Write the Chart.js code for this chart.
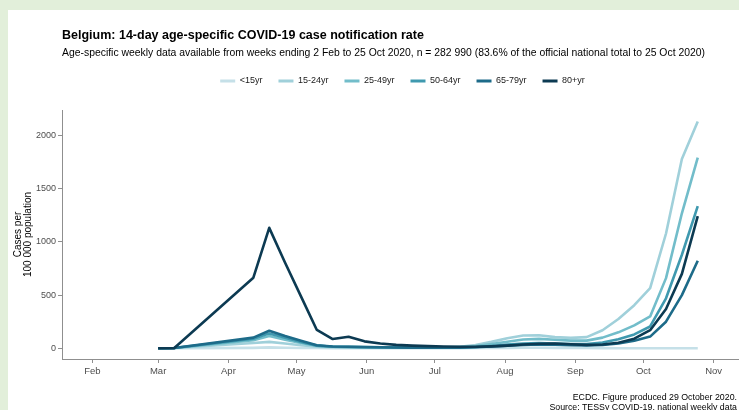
<!DOCTYPE html>
<html>
<head>
<meta charset="utf-8">
<script src="https://cdn.jsdelivr.net/npm/chart.js@4.4.1/dist/chart.umd.min.js"></script>
<style>
  html, body { margin: 0; padding: 0; width: 739px; height: 410px; overflow: hidden; background: #e2efda; font-family: 'Liberation Sans', Arial, sans-serif; }
  #panel { position: absolute; left: 8px; top: 10px; width: 740px; height: 410px; background: #ffffff; }
  #chart { position: absolute; left: 0; top: 0; }
  .txt { position: absolute; white-space: nowrap; color: #000; }
</style>
</head>
<body>
<div id="panel"></div>
<canvas id="chart" width="805" height="410"></canvas>
<div class="txt" style="left:62px; top:27px; font-size:12.5px; line-height:16px; font-weight:bold;">Belgium: 14-day age-specific COVID-19 case notification rate</div>
<div class="txt" style="left:62px; top:46px; font-size:10.4px; line-height:14px;">Age-specific weekly data available from weeks ending 2 Feb to 25 Oct 2020, n = 282 990 (83.6% of the official national total to 25 Oct 2020)</div>
<div class="txt" style="right:2px; top:392px; font-size:8.8px; line-height:10px; text-align:right;">ECDC. Figure produced 29 October 2020.<br>Source: TESSy COVID-19, national weekly data</div>
<script>
// Week-ending dates with reported age-specific data
const weekEnding = [
  '2020-03-01','2020-03-08','2020-04-12','2020-04-19','2020-04-26','2020-05-03','2020-05-10',
  '2020-05-17','2020-05-24','2020-05-31','2020-06-07','2020-06-14','2020-06-21','2020-06-28',
  '2020-07-05','2020-07-12','2020-07-19','2020-07-26','2020-08-02','2020-08-09','2020-08-16',
  '2020-08-23','2020-08-30','2020-09-06','2020-09-13','2020-09-20','2020-09-27','2020-10-04',
  '2020-10-11','2020-10-18','2020-10-25'
];

const ageGroups = ['<15yr', '15-24yr', '25-49yr', '50-64yr', '65-79yr', '80+yr'];

// 14-day notification rate per 100 000 population, by age group
const rateUnder15 = [0,0,4,8,5,3,2,1,1,1,1,1,1,1,1,1,2,3,4,5,5,4,3,2,1,0,0,0,0,0,0];
const rate15to24  = [0,2,50,60,45,28,15,10,9,8,7,7,7,8,10,15,30,60,95,120,122,105,98,105,170,275,405,565,1080,1780,2134];
const rate25to49  = [0,3,75,115,80,50,25,15,13,11,9,8,8,8,9,12,20,40,62,82,88,80,72,72,100,150,215,300,660,1270,1794];
const rate50to64  = [0,2,90,140,100,60,25,14,12,10,8,7,6,6,6,8,12,22,35,45,50,45,40,40,55,85,130,205,470,880,1337];
const rate65to79  = [0,2,100,165,115,70,28,16,14,12,9,7,6,5,5,6,9,16,25,32,36,33,28,26,32,45,70,110,250,500,823];
const rate80plus  = [0,0,664,1133,804,488,172,87,109,65,45,32,25,20,16,14,14,18,25,35,42,45,38,32,35,52,90,170,370,700,1243];

// Axis ticks
const monthStarts = ['2020-02-01','2020-03-01','2020-04-01','2020-05-01','2020-06-01','2020-07-01','2020-08-01','2020-09-01','2020-10-01','2020-11-01'];
const monthLabels = ['Feb','Mar','Apr','May','Jun','Jul','Aug','Sep','Oct','Nov'];
const rateTicks = [0, 500, 1000, 1500, 2000];

const palette = ['#c5e0e8', '#a0d0da', '#72bdca', '#3f99af', '#1d6b89', '#0c3a52'];

const origin = Date.UTC(2020, 1, 1);
function dayOf(iso) {
  const [y, m, d] = iso.split('-').map(Number);
  return (Date.UTC(y, m - 1, d) - origin) / 864e5;
}

const seriesByGroup = [rateUnder15, rate15to24, rate25to49, rate50to64, rate65to79, rate80plus];

// Older groups are drawn on top of younger ones
const datasets = ageGroups.map((group, i) => ({
  label: group,
  data: weekEnding.map((d, j) => ({ x: dayOf(d), y: seriesByGroup[i][j] })),
  borderColor: palette[i],
  backgroundColor: palette[i],
  borderWidth: 2.6,
  pointRadius: 0,
  pointHoverRadius: 0,
  tension: 0,
  borderJoinStyle: 'round',
  order: ageGroups.length - 1 - i
}));

// Empty layout box that leaves room between the legend and the plot
const legendGap = {
  id: 'legendGap',
  beforeInit(chart, args, opts) {
    Chart.layouts.addBox(chart, {
      position: 'top', weight: 0, fullSize: true, options: {},
      left: 0, top: 0, right: 0, bottom: 0, width: 0, height: 0,
      isHorizontal() { return true; },
      update(maxWidth) { this.width = maxWidth; this.height = opts.size; },
      draw() {}
    });
  }
};

Chart.defaults.font.family = "'Liberation Sans', Arial, sans-serif";
const axisGrey = '#8f8f8f';
const tickText = '#4d4d4d';

new Chart(document.getElementById('chart'), {
  type: 'line',
  data: { datasets },
  plugins: [legendGap],
  options: {
    responsive: false,
    animation: false,
    events: [],
    layout: { padding: { top: 60.5, bottom: 21, left: 0, right: 0 } },
    plugins: {
      legendGap: { size: 14.5 },
      tooltip: { enabled: false },
      title: { display: false },
      legend: {
        display: true,
        position: 'top',
        align: 'center',
        labels: {
          boxWidth: 15,
          boxHeight: 3,
          padding: 16,
          color: '#1a1a1a',
          font: { size: 9 },
          sort: (a, b) => a.datasetIndex - b.datasetIndex,
          generateLabels(chart) {
            return Chart.defaults.plugins.legend.labels.generateLabels(chart)
              .map(item => Object.assign(item, { lineWidth: 0 }));
          }
        }
      }
    },
    scales: {
      x: {
        type: 'linear',
        min: -13.4,
        max: 314.3,
        afterFit(scale) { scale.height = 30; },
        afterBuildTicks(scale) { scale.ticks = monthStarts.map(d => ({ value: dayOf(d) })); },
        grid: { display: true, drawOnChartArea: false, drawTicks: true, tickLength: 4, color: axisGrey },
        border: { display: true, color: axisGrey, width: 1 },
        ticks: {
          autoSkip: false, maxRotation: 0, padding: 3, color: tickText, font: { size: 9.5 },
          callback(value) {
            const k = monthStarts.findIndex(d => dayOf(d) === value);
            return k >= 0 ? monthLabels[k] : '';
          }
        }
      },
      y: {
        type: 'linear',
        min: -101,
        max: 2242,
        afterFit(scale) { scale.width = 62; },
        afterBuildTicks(scale) { scale.ticks = rateTicks.map(v => ({ value: v })); },
        grid: { display: true, drawOnChartArea: false, drawTicks: true, tickLength: 4, color: axisGrey },
        border: { display: true, color: axisGrey, width: 1 },
        ticks: { padding: 2, color: tickText, font: { size: 9 }, callback: (value) => String(value) },
        title: {
          display: true,
          text: ['Cases per', '100 000 population'],
          color: '#000',
          font: { size: 10, lineHeight: 1 },
          padding: { top: 13.3, bottom: 0 }
        }
      }
    }
  }
});
</script>
</body>
</html>
